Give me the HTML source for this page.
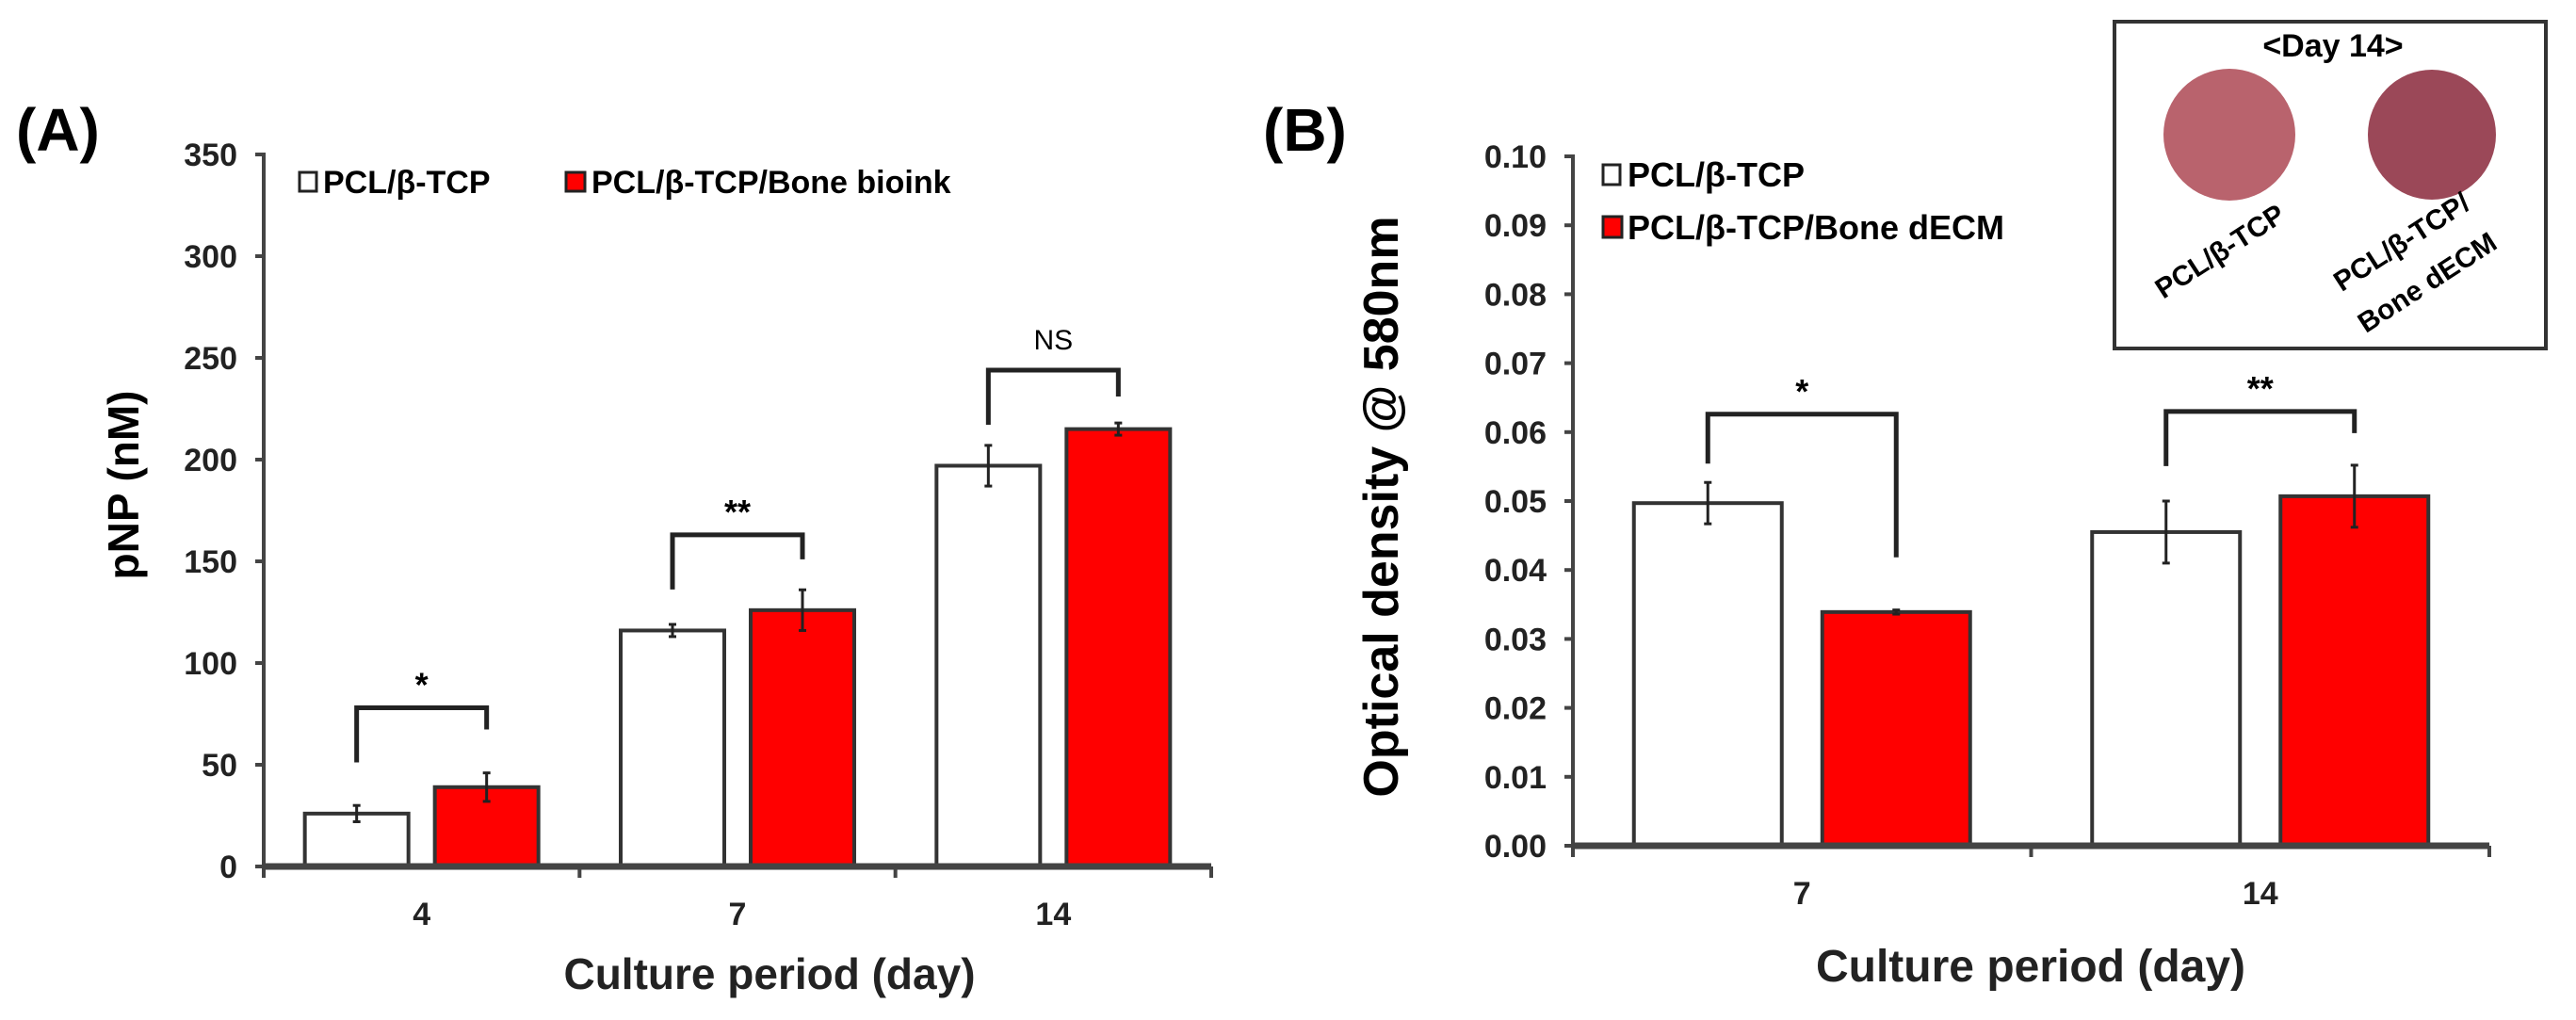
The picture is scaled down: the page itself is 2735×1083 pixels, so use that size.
<!DOCTYPE html>
<html><head><meta charset="utf-8"><style>
html,body{margin:0;padding:0;background:#fff;}
svg{display:block;font-family:"Liberation Sans",Arial,sans-serif;font-weight:bold;}
</style></head><body>
<svg id="fig" width="2735" height="1083" viewBox="0 0 2735 1083" xmlns="http://www.w3.org/2000/svg">
<rect width="2735" height="1083" fill="#fff"/>
<g id="panelA"></g>
<g id="panelB"></g>
<g id="inset">
 <rect x="2245" y="23" width="458" height="347" fill="#fff" stroke="#333" stroke-width="4"/>
 <text x="2477" y="60" font-size="34" text-anchor="middle">&lt;Day 14&gt;</text>
 <ellipse cx="2367" cy="143" rx="70" ry="70" fill="#b9636d"/>
 <ellipse cx="2582" cy="143" rx="68" ry="69" fill="#9b4858"/>
 <text x="2357" y="277" font-size="30" text-anchor="middle" transform="rotate(-33 2357 267)">PCL/β-TCP</text>
 <text x="2550" y="267" font-size="30" text-anchor="middle" transform="rotate(-33 2550 257)">PCL/β-TCP/</text>
 <text x="2577" y="310" font-size="30" text-anchor="middle" transform="rotate(-33 2577 300)">Bone dECM</text>
</g>
</svg>
<script>
// Panel A data
var catsA = ["4","7","14"];
var ctrlA = [26,116,197];
var ctrlErrA = [4,3,10];
var bioA = [39,126,215];
var bioErrA = [7,10,3];
var ticksA = ["0","50","100","150","200","250","300","350"];
var sigA = ["*","**","NS"];
var brTopA = [78,163,244];
// Panel B data
var catsB = ["7","14"];
var ctrlB = [0.0497,0.0455];
var ctrlErrB = [0.003,0.0045];
var ecmB = [0.0339,0.0507];
var ecmErrB = [0.0003,0.0045];
var ticksB = ["0.00","0.01","0.02","0.03","0.04","0.05","0.06","0.07","0.08","0.09","0.10"];
var sigB = ["*","**"];
var brTopB = [0.0626,0.063];

var SVGNS_URI = "http://www.w3.org/2000/svg";
function mkEl(parent, tag, attrs, content) {
  var e = document.createElementNS(SVGNS_URI, tag);
  for (var k in attrs) { e.setAttribute(k, attrs[k]); }
  if (content !== undefined) { e.textContent = content; }
  parent.appendChild(e);
  return e;
}

function drawPanel(g, o) {
  function yv(v) { return o.y0 - (v - o.vmin) / (o.vmax - o.vmin) * (o.y0 - o.y1); }
  var catW = (o.x1 - o.x0) / o.cats.length;
  function cx(i) { return o.x0 + catW * (i + 0.5); }
  for (var i = 0; i < o.cats.length; i++) {
    var c = o.cats[i];
    var xs = [cx(i) - o.off, cx(i) + o.off];
    var series = [[o.s1, o.e1, '#fff'], [o.s2, o.e2, '#ff0000']];
    for (var k = 0; k < 2; k++) {
      var v = series[k][0][i], er = series[k][1][i], top = yv(v);
      var r = mkEl(g, 'rect', {x: xs[k] - o.bw / 2, y: top, width: o.bw, height: o.y0 - top, fill: series[k][2], stroke: '#333', 'stroke-width': 4});
      
      
      var eg = mkEl(g, 'g', {stroke: '#222', 'stroke-width': 3});
      
      
      mkEl(eg, 'line', {x1: xs[k], x2: xs[k], y1: yv(v + er), y2: yv(v - er)});
      mkEl(eg, 'line', {x1: xs[k] - 4, x2: xs[k] + 4, y1: yv(v + er), y2: yv(v + er)});
      mkEl(eg, 'line', {x1: xs[k] - 4, x2: xs[k] + 4, y1: yv(v - er), y2: yv(v - er)});
    }
    var t = yv(o.brTop[i]);
    var l1 = Math.min(t + 58, yv(o.s1[i] + o.e1[i]) - 20);
    var l2 = Math.min(t + o.rl[i], yv(o.s2[i] + o.e2[i]) - 20);
    var b = mkEl(g, 'path', {d: 'M' + xs[0] + ',' + l1 + 'V' + t + 'H' + xs[1] + 'V' + l2, fill: 'none', stroke: '#222', 'stroke-width': 5});
    
    
    var isNS = o.sig[i] === 'NS';
    var st = mkEl(g, 'text', {x: (xs[0] + xs[1]) / 2, y: t - (isNS ? 22 : 12), 'font-size': isNS ? 30 : 36, 'text-anchor': 'middle', 'font-weight': isNS ? 'normal' : 'bold'}, o.sig[i]);
    
    
  }
  var ax = mkEl(g, 'g', {stroke: '#444', 'stroke-width': 4});
  
  
  mkEl(ax, 'line', {x1: o.x0, x2: o.x0, y1: o.y1 - 2, y2: o.y0 + 10});
  mkEl(ax, 'line', {x1: o.x0, x2: o.x1, y1: o.y0, y2: o.y0, 'stroke-width': 7});
  for (var j = 0; j < o.ticks.length; j++) {
    var tv = parseFloat(o.ticks[j]), yy = yv(tv);
    mkEl(ax, 'line', {x1: o.x0 - 9, x2: o.x0, y1: yy, y2: yy});
    var tl = mkEl(g, 'text', {x: o.x0 - 28, y: yy + 12, 'font-size': o.tfs, 'text-anchor': 'end', fill: '#222'}, o.ticks[j]);
    
    
  }
  for (var m = 0; m <= o.cats.length; m++) {
    var xx = o.x0 + catW * m;
    mkEl(ax, 'line', {x1: xx, x2: xx, y1: o.y0, y2: o.y0 + 12});
  }
  for (var n = 0; n < o.cats.length; n++) {
    var xl = mkEl(g, 'text', {x: cx(n), y: o.y0 + 62, 'font-size': 34, 'text-anchor': 'middle', fill: '#222'}, o.cats[n]);
    
    
  }
}

function addText(g, a, s, name) {
  var e = mkEl(g, 'text', a, s);
  
  
  return e;
}

var gA = document.getElementById('panelA');
drawPanel(gA, {x0: 280, x1: 1286, y0: 920, y1: 164, vmin: 0, vmax: 350, cats: catsA, s1: ctrlA, e1: ctrlErrA, s2: bioA, e2: bioErrA, off: 69, bw: 110, ticks: ticksA, sig: sigA, brTop: brTopA, rl: [23, 26, 28], tfs: 34});
var gB = document.getElementById('panelB');
drawPanel(gB, {x0: 1670, x1: 2643, y0: 898, y1: 166, vmin: 0, vmax: 0.10, cats: catsB, s1: ctrlB, e1: ctrlErrB, s2: ecmB, e2: ecmErrB, off: 100, bw: 157, ticks: ticksB, sig: sigB, brTop: brTopB, rl: [152, 23], tfs: 34});

addText(gA, {x: 17, y: 160, 'font-size': 64}, '(A)', 'panel-a-label');
addText(gA, {x: 0, y: 0, 'font-size': 46, 'text-anchor': 'middle', transform: 'translate(147 515) rotate(-90)'}, 'pNP (nM)', 'y-axis-title-a');
addText(gA, {x: 817, y: 1050, 'font-size': 46, 'text-anchor': 'middle', fill: '#222'}, 'Culture period (day)', 'x-axis-title-a');
var s1 = mkEl(gA, 'rect', {x: 318, y: 183, width: 18, height: 20, fill: '#fff', stroke: '#222', 'stroke-width': 3});


addText(gA, {x: 343, y: 205, 'font-size': 34}, 'PCL/β-TCP', 'legend-label-control');
var s2 = mkEl(gA, 'rect', {x: 601, y: 183, width: 20, height: 20, fill: '#ff0000', stroke: '#222', 'stroke-width': 3});


addText(gA, {x: 628, y: 205, 'font-size': 34}, 'PCL/β-TCP/Bone bioink', 'legend-label-bioink');

addText(gB, {x: 1341, y: 160, 'font-size': 64}, '(B)', 'panel-b-label');
addText(gB, {x: 0, y: 0, 'font-size': 52, 'text-anchor': 'middle', transform: 'translate(1484 538) rotate(-90)'}, 'Optical density @ 580nm', 'y-axis-title-b');
addText(gB, {x: 2156, y: 1042, 'font-size': 48, 'text-anchor': 'middle', fill: '#222'}, 'Culture period (day)', 'x-axis-title-b');
var s3 = mkEl(gB, 'rect', {x: 1702, y: 175, width: 18, height: 21, fill: '#fff', stroke: '#222', 'stroke-width': 3});


addText(gB, {x: 1728, y: 198, 'font-size': 36}, 'PCL/β-TCP', 'legend-label-control-b');
var s4 = mkEl(gB, 'rect', {x: 1702, y: 230, width: 20, height: 22, fill: '#ff0000', stroke: '#222', 'stroke-width': 3});


addText(gB, {x: 1728, y: 254, 'font-size': 36}, 'PCL/β-TCP/Bone dECM', 'legend-label-dECM');
</script>
</body></html>
